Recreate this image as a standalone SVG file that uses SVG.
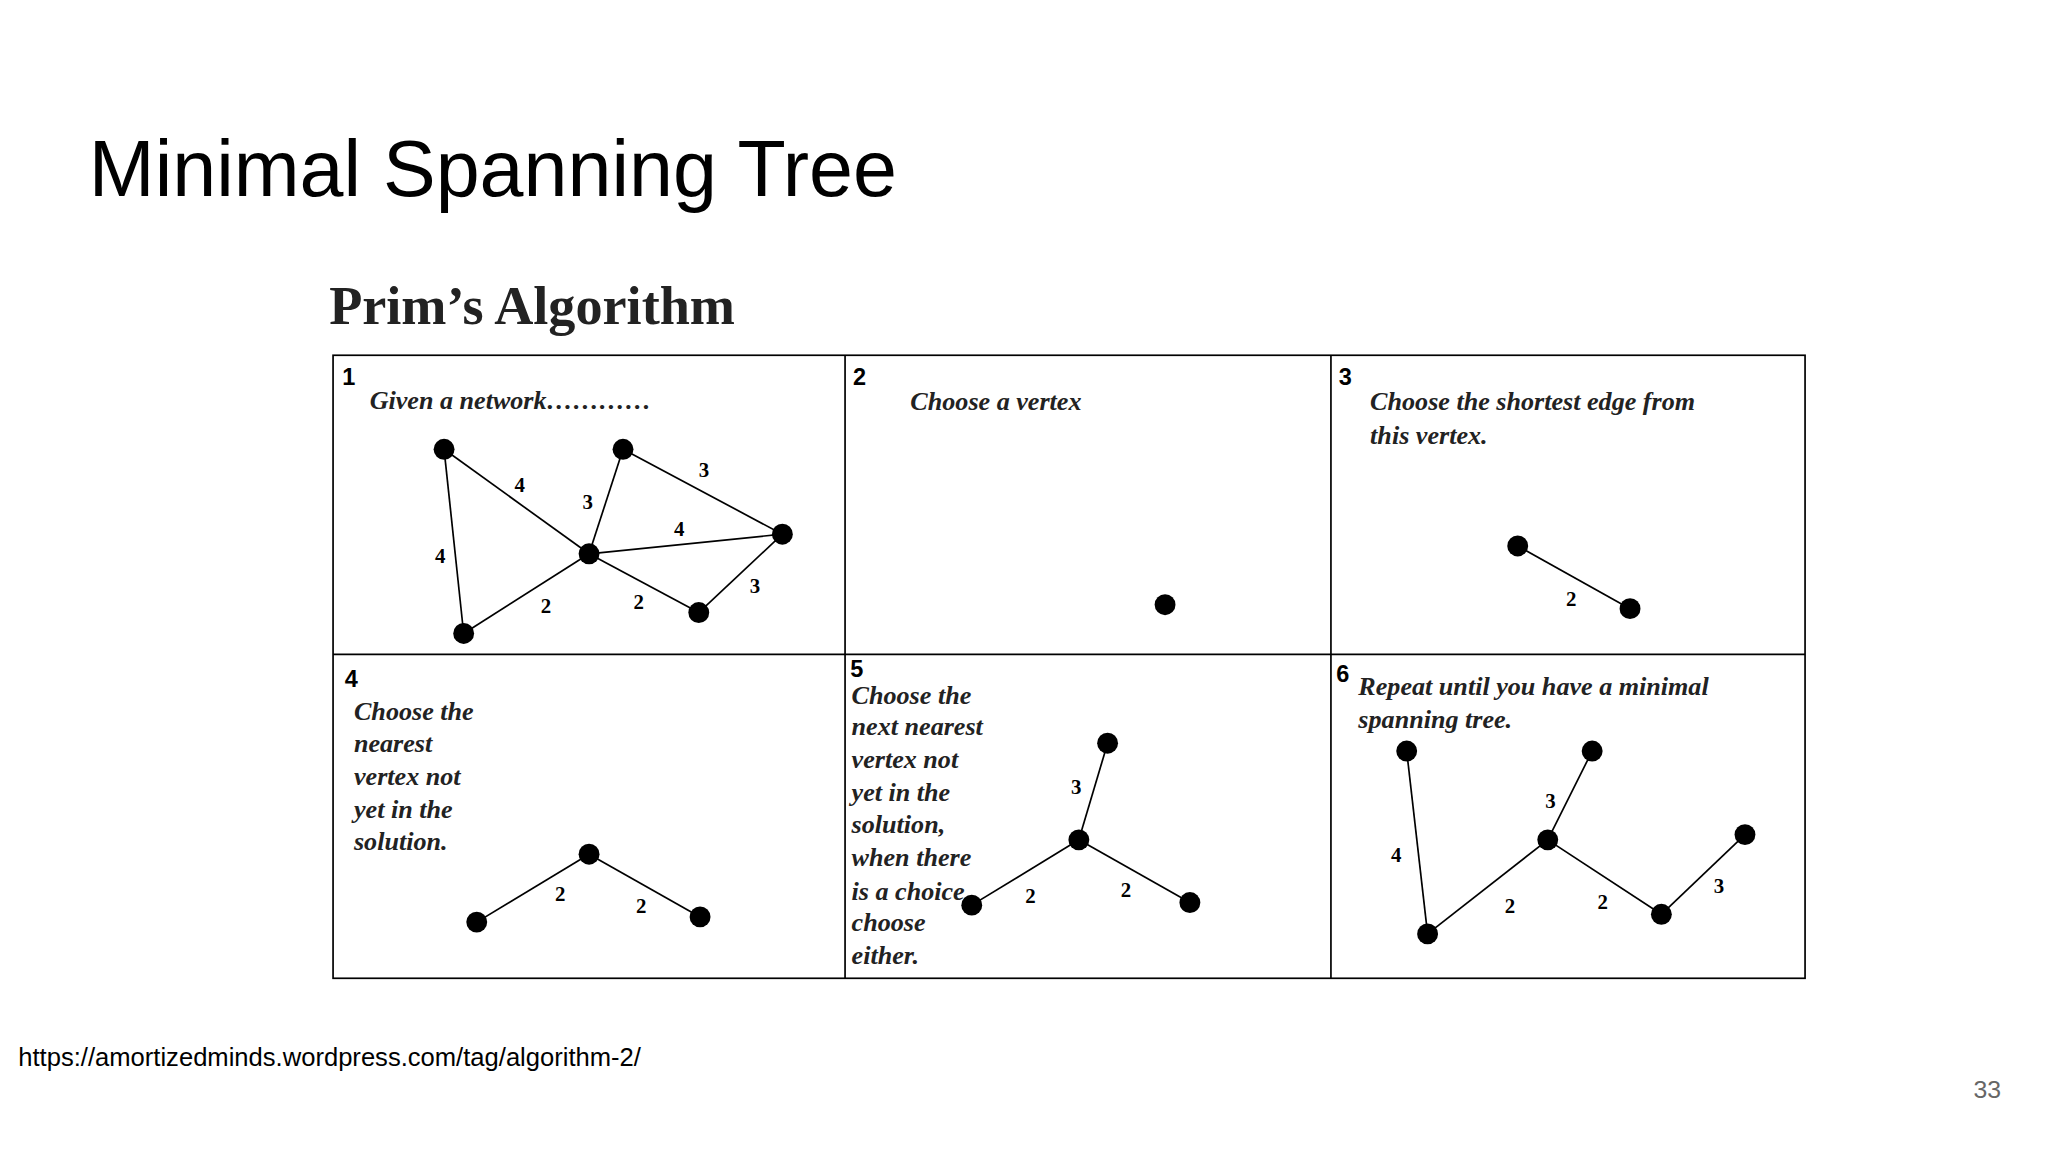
<svg xmlns="http://www.w3.org/2000/svg" width="2048" height="1152" viewBox="0 0 2048 1152">
<style>
.n{fill:#000}
.e{stroke:#000;stroke-width:1.3;fill:none}
.t{font-family:"Liberation Serif",serif;font-style:italic;font-weight:bold;font-size:20px;fill:#222}
.w{font-family:"Liberation Serif",serif;font-weight:bold;font-size:16px;fill:#000;text-anchor:middle}
.p{font-family:"Liberation Sans",sans-serif;font-weight:bold;font-size:18px;fill:#000}
</style>
<rect width="2048" height="1152" fill="#fff"/>
<g transform="scale(1.30612)">
<text x="68" y="150" font-family="Liberation Sans,sans-serif" font-size="60.5" fill="#000">Minimal Spanning Tree</text>
<text x="252" y="248" font-family="Liberation Serif,serif" font-weight="bold" font-size="41.5" fill="#222">Prim’s Algorithm</text>
<g id="grid" fill="none" stroke="#000" stroke-width="1.3">
<rect x="255" y="272" width="1127" height="477"/>
<line x1="647" y1="272" x2="647" y2="749"/><line x1="1019" y1="272" x2="1019" y2="749"/>
<line x1="255" y1="501" x2="1382" y2="501"/>
</g>
<g id="connectors">
<line class="e" x1="340" y1="344" x2="451" y2="424"/><line class="e" x1="340" y1="344" x2="355" y2="485"/>
<line class="e" x1="477" y1="344" x2="451" y2="424"/><line class="e" x1="477" y1="344" x2="599" y2="409"/>
<line class="e" x1="451" y1="424" x2="599" y2="409"/><line class="e" x1="451" y1="424" x2="355" y2="485"/>
<line class="e" x1="451" y1="424" x2="535" y2="469"/><line class="e" x1="535" y1="469" x2="599" y2="409"/>
<line class="e" x1="1162" y1="418" x2="1248" y2="466"/>
<line class="e" x1="365" y1="706" x2="451" y2="654"/><line class="e" x1="451" y1="654" x2="536" y2="702"/>
<line class="e" x1="848" y1="569" x2="826" y2="643"/><line class="e" x1="826" y1="643" x2="744" y2="693"/><line class="e" x1="826" y1="643" x2="911" y2="691"/>
<line class="e" x1="1077" y1="575" x2="1093" y2="715"/><line class="e" x1="1219" y1="575" x2="1185" y2="643"/>
<line class="e" x1="1185" y1="643" x2="1093" y2="715"/><line class="e" x1="1185" y1="643" x2="1272" y2="700"/><line class="e" x1="1272" y1="700" x2="1336" y2="639"/>
</g>
<g id="weights">
<text class="w" x="398" y="377">4</text><text class="w" x="450" y="390">3</text><text class="w" x="539" y="365">3</text><text class="w" x="520" y="410">4</text>
<text class="w" x="337" y="431">4</text><text class="w" x="418" y="469">2</text><text class="w" x="489" y="466">2</text><text class="w" x="578" y="454">3</text>
<text class="w" x="1203" y="464">2</text>
<text class="w" x="429" y="690">2</text><text class="w" x="491" y="699">2</text>
<text class="w" x="824" y="608">3</text><text class="w" x="789" y="691">2</text><text class="w" x="862" y="687">2</text>
<text class="w" x="1069" y="660">4</text><text class="w" x="1187" y="619">3</text><text class="w" x="1156" y="699">2</text><text class="w" x="1227" y="696">2</text><text class="w" x="1316" y="684">3</text>
</g>
<g id="nodes">
<g id="p1"><circle class="n" cx="340" cy="344" r="8"/><circle class="n" cx="477" cy="344" r="8"/><circle class="n" cx="599" cy="409" r="8"/><circle class="n" cx="451" cy="424" r="8"/><circle class="n" cx="355" cy="485" r="8"/><circle class="n" cx="535" cy="469" r="8"/></g>
<g id="p2"><circle class="n" cx="892" cy="463" r="8"/></g>
<g id="p3"><circle class="n" cx="1162" cy="418" r="8"/><circle class="n" cx="1248" cy="466" r="8"/></g>
<g id="p4"><circle class="n" cx="365" cy="706" r="8"/><circle class="n" cx="451" cy="654" r="8"/><circle class="n" cx="536" cy="702" r="8"/></g>
<g id="p5"><circle class="n" cx="848" cy="569" r="8"/><circle class="n" cx="826" cy="643" r="8"/><circle class="n" cx="744" cy="693" r="8"/><circle class="n" cx="911" cy="691" r="8"/></g>
<g id="p6"><circle class="n" cx="1077" cy="575" r="8"/><circle class="n" cx="1219" cy="575" r="8"/><circle class="n" cx="1336" cy="639" r="8"/><circle class="n" cx="1185" cy="643" r="8"/><circle class="n" cx="1093" cy="715" r="8"/><circle class="n" cx="1272" cy="700" r="8"/></g>
</g>
<g id="labels">
<text class="p" x="262" y="295">1</text><text class="p" x="653" y="295">2</text><text class="p" x="1025" y="295">3</text>
<text class="p" x="264" y="526">4</text><text class="p" x="651" y="518">5</text><text class="p" x="1023" y="522">6</text>
<text class="t" x="283" y="313">Given a network…………</text>
<text class="t" x="697" y="314">Choose a vertex</text>
<text class="t" x="1049" y="314">Choose the shortest edge from</text><text class="t" x="1049" y="340">this vertex.</text>
<text class="t" x="271" y="551">Choose the</text><text class="t" x="271" y="576">nearest</text><text class="t" x="271" y="601">vertex not</text><text class="t" x="271" y="626">yet in the</text><text class="t" x="271" y="651">solution.</text>
<text class="t" x="652" y="539">Choose the</text><text class="t" x="652" y="563">next nearest</text><text class="t" x="652" y="588">vertex not</text><text class="t" x="652" y="613">yet in the</text><text class="t" x="652" y="638">solution,</text><text class="t" x="652" y="663">when there</text><text class="t" x="652" y="689">is a choice</text><text class="t" x="652" y="713">choose</text><text class="t" x="652" y="738">either.</text>
<text class="t" x="1040" y="532">Repeat until you have a  minimal</text><text class="t" x="1040" y="557">spanning tree.</text>
</g>
<text x="14" y="816" font-family="Liberation Sans,sans-serif" font-size="19.6" fill="#000">https://amortizedminds.wordpress.com/tag/algorithm-2/</text>
<text x="1532" y="841" text-anchor="end" font-family="Liberation Sans,sans-serif" font-size="19" fill="#666">33</text>
</g>
</svg>
